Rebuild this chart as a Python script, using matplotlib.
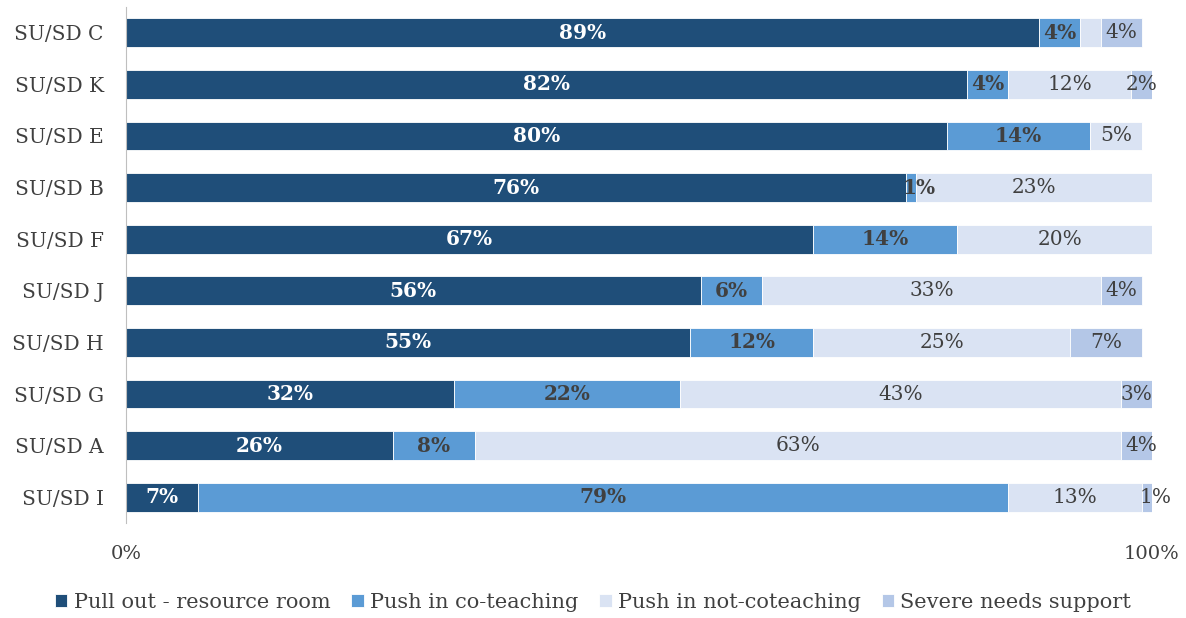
import numpy as np
import matplotlib.pyplot as plt

plt.rcParams['font.family'] = ['DejaVu Serif']

# data (percent)
districts = ['SU/SD C', 'SU/SD K', 'SU/SD E', 'SU/SD B', 'SU/SD F',
             'SU/SD J', 'SU/SD H', 'SU/SD G', 'SU/SD A', 'SU/SD I']
pull_out = [89, 82, 80, 76, 67, 56, 55, 32, 26, 7]
push_co = [4, 4, 14, 1, 14, 6, 12, 22, 8, 79]
push_not = [2, 12, 5, 23, 20, 33, 25, 43, 63, 13]
severe = [4, 2, 0, 0, 0, 4, 7, 3, 4, 1]
series_names = ['Pull out - resource room', 'Push in co-teaching',
                'Push in not-coteaching', 'Severe needs support']

colors = ['#1F4E79', '#5B9BD5', '#DAE3F3', '#B4C7E7']
txt_colors = ['white', '#404040', '#404040', '#404040']
weights = ['bold', 'bold', 'normal', 'normal']

fig = plt.figure(figsize=(11.86, 6.18), dpi=100)
ax = fig.add_axes([0.1062, 0.1537, 0.8651, 0.8350])

y = np.arange(len(districts))
left = np.zeros(len(districts))
for k, vals in enumerate([pull_out, push_co, push_not, severe]):
    vals = np.array(vals, dtype=float)
    ax.barh(y, vals, left=left, height=0.56, color=colors[k],
            edgecolor='white', linewidth=0.6, label=series_names[k])
    for i, v in enumerate(vals):
        # the tiny light segment in row C has no label in the original
        if v == 0 or (k == 2 and i == 0):
            continue
        xpos = left[i] + v / 2
        if v < 2:
            xpos += 0.8  # nudged right like the original
        ax.text(xpos, y[i], '%d%%' % v, ha='center', va='center',
                fontsize=14.5, color=txt_colors[k], fontweight=weights[k])
    left += vals

ax.set_xlim(0, 100)
ax.set_ylim(len(districts) - 0.5, -0.5)
ax.set_yticks(y)
ax.set_yticklabels(districts, fontsize=14.5, color='#404040')
ax.set_xticks([0, 100])
ax.set_xticklabels(['0%', '100%'], fontsize=14, color='#404040')
ax.tick_params(axis='both', length=0)
ax.tick_params(axis='x', pad=16)
ax.tick_params(axis='y', pad=16)
for s in ['top', 'right', 'bottom']:
    ax.spines[s].set_visible(False)
ax.spines['left'].set_color('#BFBFBF')

leg = fig.legend(loc='lower center', ncol=4, frameon=False, fontsize=15,
                 bbox_to_anchor=(0.5, -0.02), handlelength=0.6,
                 handleheight=0.6, handletextpad=0.3, columnspacing=1.0)
for t in leg.get_texts():
    t.set_color('#404040')

fig.savefig('out.png', dpi=100)
